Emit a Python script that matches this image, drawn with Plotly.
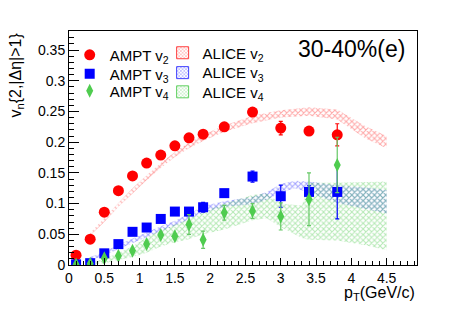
import plotly.graph_objects as go

# ---------------- data ----------------
pt_ampt = [0.1, 0.3, 0.5, 0.7, 0.9, 1.1, 1.3, 1.5, 1.7, 1.9, 2.2, 2.6, 3.0, 3.4, 3.8]
ampt_v2 = [0.016, 0.042, 0.086, 0.121, 0.145, 0.166, 0.179, 0.194, 0.207, 0.213, 0.225, 0.249, 0.223, 0.218, 0.212]
ampt_v2_err = [0.001, 0.001, 0.001, 0.001, 0.001, 0.002, 0.002, 0.002, 0.002, 0.002, 0.003, 0.004, 0.011, 0.004, 0.018]
ampt_v3 = [0.001, 0.003, 0.019, 0.034, 0.054, 0.061, 0.075, 0.087, 0.087, 0.094, 0.117, 0.144, 0.112, 0.119, 0.119]
ampt_v3_err = [0.001, 0.001, 0.001, 0.001, 0.002, 0.002, 0.002, 0.003, 0.003, 0.008, 0.004, 0.009, 0.018, 0.010, 0.044]
ampt_v4 = [0.001, 0.002, 0.011, 0.015, 0.023, 0.034, 0.049, 0.047, 0.066, 0.041, 0.085, 0.088, 0.079, 0.107, 0.163]
ampt_v4_err = [0.001, 0.001, 0.002, 0.002, 0.002, 0.003, 0.004, 0.004, 0.016, 0.014, 0.012, 0.012, 0.022, 0.043, 0.045]

pt_alice_v2 = [0.3, 0.5, 0.7, 0.9, 1.1, 1.3, 1.5, 1.7, 1.9, 2.2, 2.6, 3.0, 3.4, 3.8, 4.0, 4.2, 4.5]
alice_v2_lo = [0.048, 0.070, 0.095, 0.117, 0.138, 0.158, 0.176, 0.190, 0.202, 0.217, 0.231, 0.240, 0.243, 0.237, 0.221, 0.206, 0.190]
alice_v2_hi = [0.052, 0.076, 0.101, 0.125, 0.146, 0.166, 0.184, 0.200, 0.212, 0.227, 0.243, 0.252, 0.257, 0.253, 0.239, 0.226, 0.210]

pt_alice_v3 = [0.3, 0.5, 0.7, 0.9, 1.1, 1.3, 1.5, 1.7, 1.9, 2.2, 2.6, 2.8, 3.0, 3.2, 3.4, 3.8, 4.2, 4.5]
alice_v3_lo = [0.008, 0.015, 0.026, 0.036, 0.046, 0.055, 0.064, 0.074, 0.085, 0.095, 0.099, 0.106, 0.118, 0.125, 0.118, 0.101, 0.091, 0.084]
alice_v3_hi = [0.013, 0.021, 0.033, 0.043, 0.053, 0.063, 0.072, 0.083, 0.096, 0.104, 0.111, 0.119, 0.132, 0.137, 0.136, 0.130, 0.126, 0.122]

pt_alice_v4 = [0.3, 0.5, 0.7, 0.9, 1.1, 1.3, 1.5, 1.7, 1.9, 2.2, 2.6, 2.8, 3.0, 3.3, 3.4, 3.8, 4.2, 4.5]
alice_v4_lo = [0.000, 0.003, 0.008, 0.013, 0.020, 0.030, 0.037, 0.042, 0.050, 0.058, 0.073, 0.076, 0.062, 0.044, 0.041, 0.040, 0.032, 0.024]
alice_v4_hi = [0.003, 0.010, 0.020, 0.030, 0.045, 0.057, 0.066, 0.075, 0.086, 0.100, 0.114, 0.117, 0.100, 0.097, 0.134, 0.134, 0.135, 0.136]

x_tickvals = [0, 0.5, 1, 1.5, 2, 2.5, 3, 3.5, 4, 4.5]
x_ticktext = ["0", "0.5", "1", "1.5", "2", "2.5", "3", "3.5", "4", "4.5"]
y_tickvals = [0, 0.05, 0.1, 0.15, 0.2, 0.25, 0.3, 0.35]
y_ticktext = ["0", "0.05", "0.1", "0.15", "0.2", "0.25", "0.3", "0.35"]

FONT = "Liberation Sans, Arial, sans-serif"
RED = "#ff0000"
BLUE = "#0000ff"
GREEN = "#4fcc4f"

fig = go.Figure()


def band(x, lo, hi, color, line_color, name, legend_id):
    # hatched band in the plot
    fig.add_trace(go.Scatter(
        x=list(x) + list(reversed(x)),
        y=list(lo) + list(reversed(hi)),
        fill="toself", mode="lines", line=dict(width=0, color=color),
        fillcolor="rgba(0,0,0,0)",
        fillpattern=dict(shape="x", fgcolor=color, bgcolor="rgba(255,255,255,0)",
                         size=4, solidity=0.45),
        showlegend=False, hoverinfo="skip",
    ))
    # legend entry: hatched box with outline
    fig.add_trace(go.Bar(
        x=[None], y=[None], name=name, legend=legend_id,
        marker=dict(color="rgba(0,0,0,0)",
                    pattern=dict(shape="x", fgcolor=color, bgcolor="rgba(255,255,255,0)",
                                 size=3, solidity=0.4),
                    line=dict(color=line_color, width=1)),
    ))


band(pt_alice_v2, alice_v2_lo, alice_v2_hi, "rgba(255,60,60,0.9)", "#ff4040", "ALICE v<sub>2</sub>", "legend4")
band(pt_alice_v3, alice_v3_lo, alice_v3_hi, "rgba(40,40,255,0.9)", "#4040ff", "ALICE v<sub>3</sub>", "legend5")
band(pt_alice_v4, alice_v4_lo, alice_v4_hi, "rgba(90,205,90,0.9)", "#60d060", "ALICE v<sub>4</sub>", "legend6")


def pts(y, err, color, symbol, size, name, ecolor, legend_id):
    fig.add_trace(go.Scatter(
        x=pt_ampt, y=y, mode="markers", name=name,
        marker=dict(color=color, symbol=symbol, size=size, line=dict(width=0)),
        error_y=dict(type="data", array=err, color=ecolor, thickness=1.2, width=2),
        legend=legend_id,
    ))


pts(ampt_v2, ampt_v2_err, RED, "circle", 11, "AMPT v<sub>2</sub>", RED, "legend")
pts(ampt_v3, ampt_v3_err, BLUE, "square", 10, "AMPT v<sub>3</sub>", BLUE, "legend2")
pts(ampt_v4, ampt_v4_err, GREEN, "diamond-tall", 10, "AMPT v<sub>4</sub>", "#66c866", "legend3")

axis_common = dict(
    showline=True, linecolor="black", linewidth=1, mirror=True,
    showgrid=False, zeroline=False, ticks="inside", tickcolor="black",
    tickfont=dict(family=FONT, size=14, color="black"), automargin=False,
)

fig.update_xaxes(
    range=[0, 4.93], tickmode="array", tickvals=x_tickvals, ticktext=x_ticktext,
    ticklen=7, tickwidth=1,
    minor=dict(tickmode="linear", tick0=0, dtick=0.1, ticks="inside", ticklen=4,
               tickcolor="black", tickwidth=1),
    **axis_common,
)
fig.update_yaxes(
    range=[0, 0.381], tickmode="array", tickvals=y_tickvals, ticktext=y_ticktext,
    ticklen=10, tickwidth=1,
    minor=dict(tickmode="linear", tick0=0, dtick=0.01, ticks="inside", ticklen=5,
               tickcolor="black", tickwidth=1),
    **axis_common,
)


def leg(x, y):
    return dict(x=x, y=y, xanchor="left", yanchor="middle",
                bgcolor="rgba(0,0,0,0)", borderwidth=0,
                font=dict(family=FONT, size=15, color="black"),
                tracegroupgap=0, itemwidth=30)


fig.update_layout(
    width=455, height=306,
    margin=dict(l=61, r=46, t=23, b=49),
    paper_bgcolor="white", plot_bgcolor="white",
    font=dict(family=FONT, color="black"),
    showlegend=True,
    legend=leg(0.002, 0.897),
    legend2=leg(0.002, 0.816),
    legend3=leg(0.002, 0.744),
    legend4=leg(0.269, 0.906),
    legend5=leg(0.269, 0.821),
    legend6=leg(0.269, 0.739),
    annotations=[
        dict(text="30-40%(e)", x=0.971, y=0.922, xref="paper", yref="paper",
             xanchor="right", yanchor="middle", showarrow=False,
             font=dict(family=FONT, size=23, color="black")),
        dict(text="v<sub>n</sub>{2,|Δη|>1}", x=-0.152, y=0.81, xref="paper", yref="paper",
             xanchor="center", yanchor="middle", textangle=-90, showarrow=False,
             font=dict(family=FONT, size=16, color="black")),
        dict(text="p<sub>T</sub>(GeV/c)", x=1.0, y=-0.122, xref="paper", yref="paper",
             xanchor="right", yanchor="middle", showarrow=False,
             font=dict(family=FONT, size=16, color="black")),
    ],
)

fig.write_html("out.html")
